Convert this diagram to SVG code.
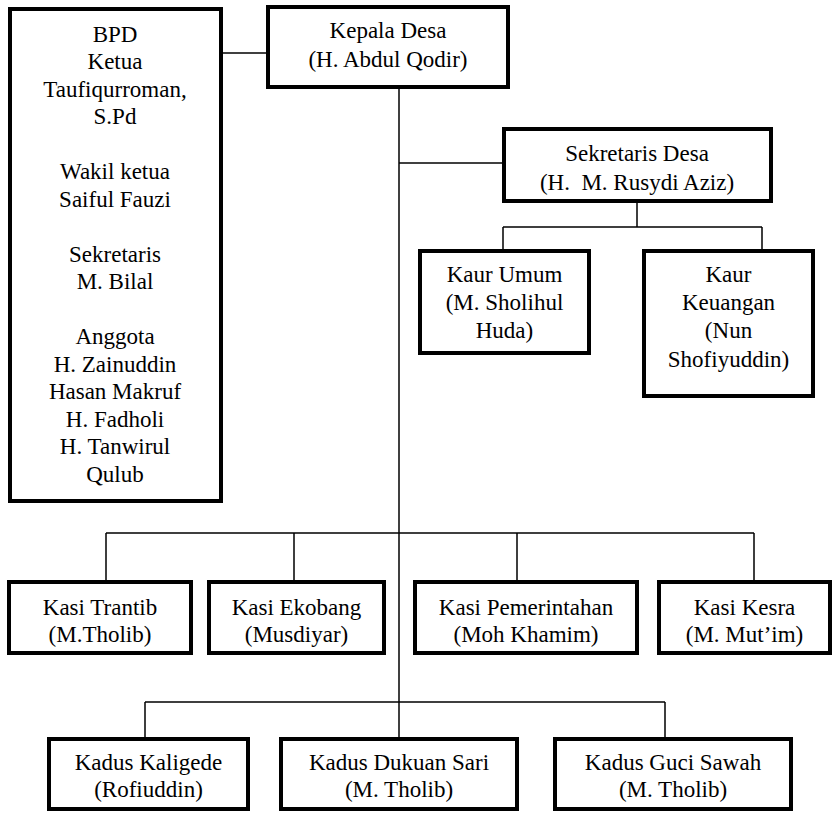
<svg xmlns="http://www.w3.org/2000/svg" width="835" height="813" viewBox="0 0 835 813">
<style>
.box{fill:#fff;stroke:#000;stroke-width:4}
.t{font-family:'Liberation Serif','Times New Roman',Times,'DejaVu Serif',serif;font-size:23px;fill:#000;text-anchor:middle}
.c{fill:none;stroke:#000;stroke-width:1.5}
</style>
<rect width="835" height="813" fill="#fff"/>
<g id="connectors">
<path class="c" d="M223 53H266"/>
<path class="c" d="M399 89V737"/>
<path class="c" d="M399 163H502"/>
<path class="c" d="M637 203V227M503 227H762M503 227V249M762 227V249"/>
<path class="c" d="M106 533H754M106 533V580M294 533V580M517 533V580M754 533V580"/>
<path class="c" d="M145 702H665M145 702V737M665 702V737"/>
</g>
<g id="bpd">
<rect class="box" x="10" y="9" width="211" height="492"/>
<text class="t" font-family="Liberation Serif, Times New Roman, serif"><tspan x="115" y="41.5">BPD</tspan><tspan x="115" y="69">Ketua</tspan><tspan x="115" y="96.5">Taufiqurroman,</tspan><tspan x="115" y="124">S.Pd</tspan><tspan x="115" y="179">Wakil ketua</tspan><tspan x="115" y="206.5">Saiful Fauzi</tspan><tspan x="115" y="261.5">Sekretaris</tspan><tspan x="115" y="289">M. Bilal</tspan><tspan x="115" y="344">Anggota</tspan><tspan x="115" y="371.5">H. Zainuddin</tspan><tspan x="115" y="399">Hasan Makruf</tspan><tspan x="115" y="426.5">H. Fadholi</tspan><tspan x="115" y="454">H. Tanwirul</tspan><tspan x="115" y="481.5">Qulub</tspan></text>
</g>
<g id="kepala-desa">
<rect class="box" x="268" y="7" width="240" height="80"/>
<text class="t"><tspan x="388" y="38">Kepala Desa</tspan><tspan x="388" y="67">(H. Abdul Qodir)</tspan></text>
</g>
<g id="sekretaris-desa">
<rect class="box" x="504" y="129" width="267" height="72"/>
<text class="t" xml:space="preserve"><tspan x="637" y="161">Sekretaris Desa</tspan><tspan x="637" y="190">(H.  M. Rusydi Aziz)</tspan></text>
</g>
<g id="kaur-umum">
<rect class="box" x="420" y="251" width="169" height="102"/>
<text class="t"><tspan x="504.5" y="282">Kaur Umum</tspan><tspan x="504.5" y="310">(M. Sholihul</tspan><tspan x="504.5" y="338">Huda)</tspan></text>
</g>
<g id="kaur-keuangan">
<rect class="box" x="644" y="251" width="169" height="145"/>
<text class="t"><tspan x="728.5" y="282">Kaur</tspan><tspan x="728.5" y="310">Keuangan</tspan><tspan x="728.5" y="338">(Nun</tspan><tspan x="728.5" y="367">Shofiyuddin)</tspan></text>
</g>
<g id="kasi-trantib">
<rect class="box" x="9" y="582" width="182" height="71"/>
<text class="t"><tspan x="100" y="615">Kasi Trantib</tspan><tspan x="100" y="642">(M.Tholib)</tspan></text>
</g>
<g id="kasi-ekobang">
<rect class="box" x="209" y="582" width="175" height="71"/>
<text class="t"><tspan x="296.5" y="615">Kasi Ekobang</tspan><tspan x="296.5" y="642">(Musdiyar)</tspan></text>
</g>
<g id="kasi-pemerintahan">
<rect class="box" x="415" y="582" width="222" height="71"/>
<text class="t"><tspan x="526" y="615">Kasi Pemerintahan</tspan><tspan x="526" y="642">(Moh Khamim)</tspan></text>
</g>
<g id="kasi-kesra">
<rect class="box" x="659" y="582" width="171" height="71"/>
<text class="t"><tspan x="744.5" y="615">Kasi Kesra</tspan><tspan x="744.5" y="642">(M. Mut’im)</tspan></text>
</g>
<g id="kadus-kaligede">
<rect class="box" x="49" y="739" width="199" height="70"/>
<text class="t"><tspan x="148.5" y="770">Kadus Kaligede</tspan><tspan x="148.5" y="797">(Rofiuddin)</tspan></text>
</g>
<g id="kadus-dukuan-sari">
<rect class="box" x="281" y="739" width="236" height="70"/>
<text class="t"><tspan x="399" y="770">Kadus Dukuan Sari</tspan><tspan x="399" y="797">(M. Tholib)</tspan></text>
</g>
<g id="kadus-guci-sawah">
<rect class="box" x="555" y="739" width="236" height="70"/>
<text class="t"><tspan x="673" y="770">Kadus Guci Sawah</tspan><tspan x="673" y="797">(M. Tholib)</tspan></text>
</g>
</svg>
